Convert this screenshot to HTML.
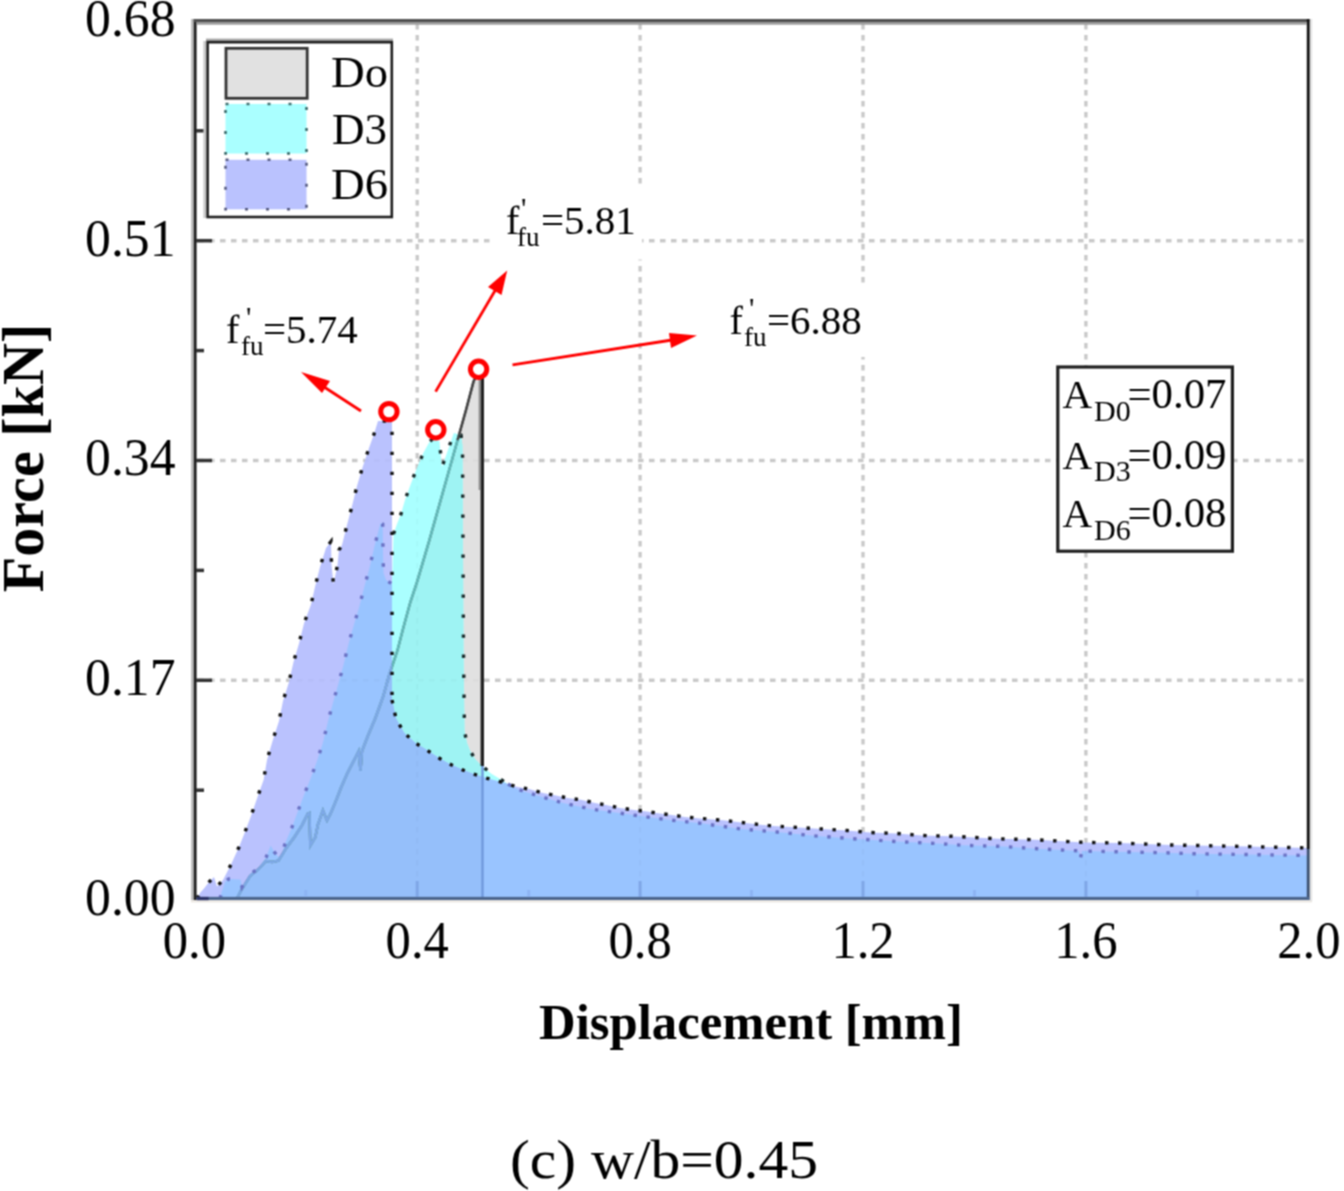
<!DOCTYPE html>
<html><head><meta charset="utf-8">
<style>
html,body{margin:0;padding:0;background:#fff;}
svg{display:block;}
text{font-family:"Liberation Serif",serif;fill:#000;}
</style></head>
<body>
<svg width="1344" height="1191" viewBox="0 0 1344 1191">
<defs>
<filter id="soft" filterUnits="userSpaceOnUse" x="-10" y="-10" width="1364" height="1211" color-interpolation-filters="sRGB"><feConvolveMatrix order="3" kernelMatrix="1 2 1 2 4 2 1 2 1" divisor="16" edgeMode="duplicate" preserveAlpha="true"/></filter>
<clipPath id="c6"><polygon points="197.0,898.5 200.0,893.0 204.0,888.5 209.0,882.0 214.0,877.0 217.0,886.5 223.0,880.0 231.0,864.6 239.0,847.0 245.0,832.0 251.0,816.0 257.5,797.0 263.6,780.0 267.0,760.0 273.0,739.4 279.0,721.0 283.0,701.0 289.0,682.0 293.4,662.4 299.0,643.5 304.0,623.4 311.0,604.6 315.0,587.0 320.0,567.0 326.0,548.0 331.0,541.5 331.5,565.0 333.5,584.0 337.5,565.0 339.0,550.0 342.0,545.0 347.0,525.0 352.0,506.0 357.0,486.0 362.0,469.0 369.0,448.0 374.0,434.0 378.0,421.0 392.0,421.0 392.0,700.0 396.0,718.6 404.0,732.7 415.0,742.7 426.0,749.5 438.0,757.5 448.5,763.6 462.0,769.6 472.0,773.6 482.0,776.8 494.0,780.3 505.0,783.0 515.7,786.6 530.0,789.3 543.0,793.0 556.0,795.5 567.5,798.0 581.0,799.8 595.0,803.0 606.0,805.0 620.0,808.0 634.0,810.0 647.0,811.6 660.0,813.5 672.0,815.0 685.0,817.0 700.0,818.4 723.0,820.3 748.0,823.2 773.5,826.1 799.0,827.5 822.0,829.0 847.0,830.5 870.0,832.5 897.0,833.5 922.0,835.5 950.0,836.2 961.0,836.7 998.0,838.8 1036.0,839.8 1084.0,842.4 1121.0,843.1 1171.0,845.0 1196.0,845.5 1250.0,846.6 1308.8,848.0 1308.8,898.5 197.0,898.5"/></clipPath>
<clipPath id="c3"><polygon points="220.0,898.5 221.5,893.0 225.0,882.0 228.5,879.0 240.5,879.5 242.0,887.0 250.0,874.0 258.0,869.0 262.0,863.0 266.0,857.6 270.7,845.5 274.0,851.6 278.8,857.6 282.0,853.6 285.5,842.2 292.2,826.7 298.0,811.0 304.0,795.0 311.0,777.6 317.0,761.0 323.0,742.5 328.0,721.3 332.6,704.2 338.6,683.0 343.7,664.3 348.3,644.7 354.0,624.5 359.4,606.3 364.2,587.2 369.3,568.8 374.3,547.0 380.5,523.0 382.7,524.0 383.0,552.0 383.5,573.0 386.0,580.0 392.0,584.0 393.5,534.0 397.0,524.0 401.0,514.0 405.0,500.0 410.7,484.3 416.8,468.2 423.3,453.1 429.4,442.0 433.0,438.5 439.4,441.0 442.0,467.0 448.5,448.6 453.8,433.0 461.0,435.0 462.5,446.0 463.5,650.0 464.5,731.4 467.0,743.0 470.2,751.0 475.0,759.0 479.6,763.7 484.0,767.5 491.0,773.5 501.7,780.0 508.0,784.0 518.0,789.5 537.0,795.5 562.0,802.7 590.0,808.9 628.0,814.3 666.0,819.6 703.0,823.6 741.0,829.0 777.0,832.0 814.0,835.8 853.0,838.7 897.0,841.6 938.0,843.5 963.0,845.3 1000.0,846.3 1037.0,848.7 1079.0,850.9 1080.5,858.0 1082.0,851.0 1128.0,852.0 1166.0,852.8 1192.0,853.7 1250.0,854.6 1308.8,855.5 1308.8,898.5 220.0,898.5"/></clipPath>
<clipPath id="c0"><polygon points="237.0,898.5 241.0,890.5 250.0,876.0 258.0,869.5 266.0,861.0 272.0,862.0 278.4,860.7 286.8,847.2 294.3,837.2 301.9,825.4 307.8,813.7 309.5,813.0 310.3,845.6 315.3,837.2 317.9,824.6 322.9,810.3 327.0,820.4 330.5,813.7 335.5,801.9 341.4,786.8 347.2,773.4 358.7,751.2 360.5,771.0 362.0,751.0 367.8,736.0 375.4,718.0 383.0,697.0 389.0,675.6 397.4,650.5 403.2,628.2 410.3,602.3 417.3,581.1 423.2,561.2 429.1,541.2 443.5,490.0 457.6,440.0 466.0,410.0 473.5,381.6 478.0,372.0 482.0,372.0 482.0,766.0 482.5,898.5 237.0,898.5"/></clipPath>
</defs>
<rect width="1344" height="1191" fill="#fff"/>
<g filter="url(#soft)">
<rect x="-10" y="-10" width="1364" height="1211" fill="#fff"/>
<!-- grid -->
<g stroke="#cdcdcd" stroke-width="3.4" stroke-dasharray="5.5 5.5">
<line x1="417.2" y1="24" x2="417.2" y2="896" />
<line x1="640.1" y1="24" x2="640.1" y2="896" />
<line x1="863.0" y1="24" x2="863.0" y2="896" />
<line x1="1085.9" y1="24" x2="1085.9" y2="896" />
<line x1="198" y1="680.3" x2="1306" y2="680.3" />
<line x1="198" y1="460.5" x2="1306" y2="460.5" />
<line x1="198" y1="240.7" x2="1306" y2="240.7" />
</g>
<!-- fills -->
<polygon points="237.0,898.5 241.0,890.5 250.0,876.0 258.0,869.5 266.0,861.0 272.0,862.0 278.4,860.7 286.8,847.2 294.3,837.2 301.9,825.4 307.8,813.7 309.5,813.0 310.3,845.6 315.3,837.2 317.9,824.6 322.9,810.3 327.0,820.4 330.5,813.7 335.5,801.9 341.4,786.8 347.2,773.4 358.7,751.2 360.5,771.0 362.0,751.0 367.8,736.0 375.4,718.0 383.0,697.0 389.0,675.6 397.4,650.5 403.2,628.2 410.3,602.3 417.3,581.1 423.2,561.2 429.1,541.2 443.5,490.0 457.6,440.0 466.0,410.0 473.5,381.6 478.0,372.0 482.0,372.0 482.0,766.0 482.5,898.5 237.0,898.5" fill="#e1e1e1"/>
<polygon points="220.0,898.5 221.5,893.0 225.0,882.0 228.5,879.0 240.5,879.5 242.0,887.0 250.0,874.0 258.0,869.0 262.0,863.0 266.0,857.6 270.7,845.5 274.0,851.6 278.8,857.6 282.0,853.6 285.5,842.2 292.2,826.7 298.0,811.0 304.0,795.0 311.0,777.6 317.0,761.0 323.0,742.5 328.0,721.3 332.6,704.2 338.6,683.0 343.7,664.3 348.3,644.7 354.0,624.5 359.4,606.3 364.2,587.2 369.3,568.8 374.3,547.0 380.5,523.0 382.7,524.0 383.0,552.0 383.5,573.0 386.0,580.0 392.0,584.0 393.5,534.0 397.0,524.0 401.0,514.0 405.0,500.0 410.7,484.3 416.8,468.2 423.3,453.1 429.4,442.0 433.0,438.5 439.4,441.0 442.0,467.0 448.5,448.6 453.8,433.0 461.0,435.0 462.5,446.0 463.5,650.0 464.5,731.4 467.0,743.0 470.2,751.0 475.0,759.0 479.6,763.7 484.0,767.5 491.0,773.5 501.7,780.0 508.0,784.0 518.0,789.5 537.0,795.5 562.0,802.7 590.0,808.9 628.0,814.3 666.0,819.6 703.0,823.6 741.0,829.0 777.0,832.0 814.0,835.8 853.0,838.7 897.0,841.6 938.0,843.5 963.0,845.3 1000.0,846.3 1037.0,848.7 1079.0,850.9 1080.5,858.0 1082.0,851.0 1128.0,852.0 1166.0,852.8 1192.0,853.7 1250.0,854.6 1308.8,855.5 1308.8,898.5 220.0,898.5" fill="#aaffff"/>
<polygon points="220.0,898.5 221.5,893.0 225.0,882.0 228.5,879.0 240.5,879.5 242.0,887.0 250.0,874.0 258.0,869.0 262.0,863.0 266.0,857.6 270.7,845.5 274.0,851.6 278.8,857.6 282.0,853.6 285.5,842.2 292.2,826.7 298.0,811.0 304.0,795.0 311.0,777.6 317.0,761.0 323.0,742.5 328.0,721.3 332.6,704.2 338.6,683.0 343.7,664.3 348.3,644.7 354.0,624.5 359.4,606.3 364.2,587.2 369.3,568.8 374.3,547.0 380.5,523.0 382.7,524.0 383.0,552.0 383.5,573.0 386.0,580.0 392.0,584.0 393.5,534.0 397.0,524.0 401.0,514.0 405.0,500.0 410.7,484.3 416.8,468.2 423.3,453.1 429.4,442.0 433.0,438.5 439.4,441.0 442.0,467.0 448.5,448.6 453.8,433.0 461.0,435.0 462.5,446.0 463.5,650.0 464.5,731.4 467.0,743.0 470.2,751.0 475.0,759.0 479.6,763.7 484.0,767.5 491.0,773.5 501.7,780.0 508.0,784.0 518.0,789.5 537.0,795.5 562.0,802.7 590.0,808.9 628.0,814.3 666.0,819.6 703.0,823.6 741.0,829.0 777.0,832.0 814.0,835.8 853.0,838.7 897.0,841.6 938.0,843.5 963.0,845.3 1000.0,846.3 1037.0,848.7 1079.0,850.9 1080.5,858.0 1082.0,851.0 1128.0,852.0 1166.0,852.8 1192.0,853.7 1250.0,854.6 1308.8,855.5 1308.8,898.5 220.0,898.5" fill="#9ef3f3" clip-path="url(#c0)"/>
<polygon points="197.0,898.5 200.0,893.0 204.0,888.5 209.0,882.0 214.0,877.0 217.0,886.5 223.0,880.0 231.0,864.6 239.0,847.0 245.0,832.0 251.0,816.0 257.5,797.0 263.6,780.0 267.0,760.0 273.0,739.4 279.0,721.0 283.0,701.0 289.0,682.0 293.4,662.4 299.0,643.5 304.0,623.4 311.0,604.6 315.0,587.0 320.0,567.0 326.0,548.0 331.0,541.5 331.5,565.0 333.5,584.0 337.5,565.0 339.0,550.0 342.0,545.0 347.0,525.0 352.0,506.0 357.0,486.0 362.0,469.0 369.0,448.0 374.0,434.0 378.0,421.0 392.0,421.0 392.0,700.0 396.0,718.6 404.0,732.7 415.0,742.7 426.0,749.5 438.0,757.5 448.5,763.6 462.0,769.6 472.0,773.6 482.0,776.8 494.0,780.3 505.0,783.0 515.7,786.6 530.0,789.3 543.0,793.0 556.0,795.5 567.5,798.0 581.0,799.8 595.0,803.0 606.0,805.0 620.0,808.0 634.0,810.0 647.0,811.6 660.0,813.5 672.0,815.0 685.0,817.0 700.0,818.4 723.0,820.3 748.0,823.2 773.5,826.1 799.0,827.5 822.0,829.0 847.0,830.5 870.0,832.5 897.0,833.5 922.0,835.5 950.0,836.2 961.0,836.7 998.0,838.8 1036.0,839.8 1084.0,842.4 1121.0,843.1 1171.0,845.0 1196.0,845.5 1250.0,846.6 1308.8,848.0 1308.8,898.5 197.0,898.5" fill="#bac2fe"/>
<polygon points="197.0,898.5 200.0,893.0 204.0,888.5 209.0,882.0 214.0,877.0 217.0,886.5 223.0,880.0 231.0,864.6 239.0,847.0 245.0,832.0 251.0,816.0 257.5,797.0 263.6,780.0 267.0,760.0 273.0,739.4 279.0,721.0 283.0,701.0 289.0,682.0 293.4,662.4 299.0,643.5 304.0,623.4 311.0,604.6 315.0,587.0 320.0,567.0 326.0,548.0 331.0,541.5 331.5,565.0 333.5,584.0 337.5,565.0 339.0,550.0 342.0,545.0 347.0,525.0 352.0,506.0 357.0,486.0 362.0,469.0 369.0,448.0 374.0,434.0 378.0,421.0 392.0,421.0 392.0,700.0 396.0,718.6 404.0,732.7 415.0,742.7 426.0,749.5 438.0,757.5 448.5,763.6 462.0,769.6 472.0,773.6 482.0,776.8 494.0,780.3 505.0,783.0 515.7,786.6 530.0,789.3 543.0,793.0 556.0,795.5 567.5,798.0 581.0,799.8 595.0,803.0 606.0,805.0 620.0,808.0 634.0,810.0 647.0,811.6 660.0,813.5 672.0,815.0 685.0,817.0 700.0,818.4 723.0,820.3 748.0,823.2 773.5,826.1 799.0,827.5 822.0,829.0 847.0,830.5 870.0,832.5 897.0,833.5 922.0,835.5 950.0,836.2 961.0,836.7 998.0,838.8 1036.0,839.8 1084.0,842.4 1121.0,843.1 1171.0,845.0 1196.0,845.5 1250.0,846.6 1308.8,848.0 1308.8,898.5 197.0,898.5" fill="#99c4ff" clip-path="url(#c3)"/>
<g clip-path="url(#c3)"><polygon points="237.0,898.5 241.0,890.5 250.0,876.0 258.0,869.5 266.0,861.0 272.0,862.0 278.4,860.7 286.8,847.2 294.3,837.2 301.9,825.4 307.8,813.7 309.5,813.0 310.3,845.6 315.3,837.2 317.9,824.6 322.9,810.3 327.0,820.4 330.5,813.7 335.5,801.9 341.4,786.8 347.2,773.4 358.7,751.2 360.5,771.0 362.0,751.0 367.8,736.0 375.4,718.0 383.0,697.0 389.0,675.6 397.4,650.5 403.2,628.2 410.3,602.3 417.3,581.1 423.2,561.2 429.1,541.2 443.5,490.0 457.6,440.0 466.0,410.0 473.5,381.6 478.0,372.0 482.0,372.0 482.0,766.0 482.5,898.5 237.0,898.5" fill="#95bffa" clip-path="url(#c6)"/></g>
<!-- faint grid over fills -->
<g stroke="#000" stroke-opacity="0.025" stroke-width="2.4" stroke-dasharray="5.5 5.5">
<line x1="417.2" y1="24" x2="417.2" y2="896" />
<line x1="640.1" y1="24" x2="640.1" y2="896" />
<line x1="863.0" y1="24" x2="863.0" y2="896" />
<line x1="1085.9" y1="24" x2="1085.9" y2="896" />
<line x1="198" y1="680.3" x2="1306" y2="680.3" />
<line x1="198" y1="460.5" x2="1306" y2="460.5" />
<line x1="198" y1="240.7" x2="1306" y2="240.7" />
</g>
<!-- D0 line -->
<polyline points="237.0,898.5 241.0,890.5 250.0,876.0 258.0,869.5 266.0,861.0 272.0,862.0 278.4,860.7 286.8,847.2 294.3,837.2 301.9,825.4 307.8,813.7 309.5,813.0 310.3,845.6 315.3,837.2 317.9,824.6 322.9,810.3 327.0,820.4 330.5,813.7 335.5,801.9 341.4,786.8 347.2,773.4 358.7,751.2 360.5,771.0 362.0,751.0 367.8,736.0 375.4,718.0 383.0,697.0 389.0,675.6 397.4,650.5 403.2,628.2 410.3,602.3 417.3,581.1 423.2,561.2 429.1,541.2 443.5,490.0 457.6,440.0 466.0,410.0 473.5,381.6 478.0,372.0" fill="none" stroke="#555" stroke-width="2.4"/>
<polyline points="237.0,898.5 241.0,890.5 250.0,876.0 258.0,869.5 266.0,861.0 272.0,862.0 278.4,860.7 286.8,847.2 294.3,837.2 301.9,825.4 307.8,813.7 309.5,813.0 310.3,845.6 315.3,837.2 317.9,824.6 322.9,810.3 327.0,820.4 330.5,813.7 335.5,801.9 341.4,786.8 347.2,773.4 358.7,751.2 360.5,771.0 362.0,751.0 367.8,736.0 375.4,718.0 383.0,697.0 389.0,675.6 397.4,650.5 403.2,628.2 410.3,602.3 417.3,581.1 423.2,561.2 429.1,541.2 443.5,490.0 457.6,440.0 466.0,410.0 473.5,381.6 478.0,372.0" fill="none" stroke="#62bcbc" stroke-width="2.4" clip-path="url(#c3)"/>
<polyline points="237.0,898.5 241.0,890.5 250.0,876.0 258.0,869.5 266.0,861.0 272.0,862.0 278.4,860.7 286.8,847.2 294.3,837.2 301.9,825.4 307.8,813.7 309.5,813.0 310.3,845.6 315.3,837.2 317.9,824.6 322.9,810.3 327.0,820.4 330.5,813.7 335.5,801.9 341.4,786.8 347.2,773.4 358.7,751.2 360.5,771.0 362.0,751.0 367.8,736.0 375.4,718.0 383.0,697.0 389.0,675.6 397.4,650.5 403.2,628.2 410.3,602.3 417.3,581.1 423.2,561.2 429.1,541.2 443.5,490.0 457.6,440.0 466.0,410.0 473.5,381.6 478.0,372.0" fill="none" stroke="#7ea8e8" stroke-width="2.4" clip-path="url(#c6)"/>
<polyline points="457.6,440.0 466.0,410.0 473.5,381.6 478.0,372.0" fill="none" stroke="#444" stroke-width="2.4"/>
<line x1="482.3" y1="376" x2="482.3" y2="766" stroke="#222" stroke-width="3.4"/>
<line x1="479.5" y1="376" x2="479.5" y2="490" stroke="#888" stroke-width="1.6"/>
<line x1="482.5" y1="766" x2="482.5" y2="897" stroke="#6f98dc" stroke-width="2.4"/>
<!-- D3 dotted -->
<g fill="none" stroke-width="3.4" stroke-dasharray="3.4 16.6">
<polyline points="220.0,898.5 221.5,893.0 225.0,882.0 228.5,879.0 240.5,879.5 242.0,887.0 250.0,874.0 258.0,869.0 262.0,863.0 266.0,857.6 270.7,845.5 274.0,851.6 278.8,857.6 282.0,853.6 285.5,842.2 292.2,826.7 298.0,811.0 304.0,795.0 311.0,777.6 317.0,761.0 323.0,742.5 328.0,721.3 332.6,704.2 338.6,683.0 343.7,664.3 348.3,644.7 354.0,624.5 359.4,606.3 364.2,587.2 369.3,568.8 374.3,547.0 380.5,523.0 382.7,524.0 383.0,552.0 383.5,573.0 386.0,580.0 392.0,584.0" stroke="#6a72c4"/>
<polyline points="393.5,534.0 397.0,524.0 401.0,514.0 405.0,500.0 410.7,484.3 416.8,468.2 423.3,453.1 429.4,442.0 433.0,438.5 439.4,441.0 442.0,467.0 448.5,448.6 453.8,433.0 461.0,435.0 462.5,446.0 463.5,650.0 464.5,731.4 467.0,743.0 470.2,751.0 475.0,759.0 479.6,763.7 484.0,767.5 491.0,773.5 501.7,780.0 508.0,784.0" stroke="#1a2a2a"/>
<polyline points="508.0,784.0 518.0,789.5 537.0,795.5 562.0,802.7 590.0,808.9 628.0,814.3 666.0,819.6 703.0,823.6 741.0,829.0 777.0,832.0 814.0,835.8 853.0,838.7 897.0,841.6 938.0,843.5 963.0,845.3 1000.0,846.3 1037.0,848.7 1079.0,850.9 1080.5,858.0 1082.0,851.0 1128.0,852.0 1166.0,852.8 1192.0,853.7 1250.0,854.6 1308.8,855.5" stroke="#6a72c4" stroke-dasharray="3.4 9.6"/>
</g>
<!-- D6 dotted -->
<g fill="none" stroke="#111" stroke-width="3.4">
<polyline points="197.0,898.5 200.0,893.0 204.0,888.5 209.0,882.0 214.0,877.0 217.0,886.5 223.0,880.0 231.0,864.6 239.0,847.0 245.0,832.0 251.0,816.0 257.5,797.0 263.6,780.0 267.0,760.0 273.0,739.4 279.0,721.0 283.0,701.0 289.0,682.0 293.4,662.4 299.0,643.5 304.0,623.4 311.0,604.6 315.0,587.0 320.0,567.0 326.0,548.0 331.0,541.5 331.5,565.0 333.5,584.0 337.5,565.0 339.0,550.0 342.0,545.0 347.0,525.0 352.0,506.0 357.0,486.0 362.0,469.0 369.0,448.0 374.0,434.0 378.0,421.0 392.0,421.0 392.0,700.0" stroke-dasharray="3.4 16.6"/>
<polyline points="392.0,700.0 396.0,718.6 404.0,732.7 415.0,742.7 426.0,749.5 438.0,757.5 448.5,763.6 462.0,769.6 472.0,773.6 482.0,776.8 494.0,780.3 505.0,783.0 515.7,786.6 530.0,789.3 543.0,793.0 556.0,795.5 567.5,798.0 581.0,799.8 595.0,803.0 606.0,805.0 620.0,808.0 634.0,810.0 647.0,811.6 660.0,813.5 672.0,815.0 685.0,817.0 700.0,818.4 723.0,820.3 748.0,823.2 773.5,826.1 799.0,827.5 822.0,829.0 847.0,830.5 870.0,832.5 897.0,833.5 922.0,835.5 950.0,836.2 961.0,836.7 998.0,838.8 1036.0,839.8 1084.0,842.4 1121.0,843.1 1171.0,845.0 1196.0,845.5 1250.0,846.6 1308.8,848.0" stroke-dasharray="3.4 9.6"/>
</g>
<!-- axes frame -->
<rect x="191" y="19" width="2.7" height="881" fill="#bdbdbd"/>
<rect x="193.7" y="19" width="2.9" height="881" fill="#1e1e1e"/>
<rect x="193.7" y="19" width="1116" height="3" fill="#505050"/>
<rect x="196.6" y="22" width="1110" height="2.7" fill="#9c9c9c"/>
<rect x="1306.8" y="19" width="3" height="830" fill="#111"/>
<rect x="1306.8" y="849" width="3" height="51" fill="#3c5070"/>
<rect x="196.6" y="896.9" width="1113" height="3.3" fill="#4c668d"/>
<rect x="191" y="900.2" width="1121" height="2.2" fill="#ebe7e1"/>
<rect x="1309.8" y="19" width="2.4" height="882" fill="#e2e2e2"/>
<rect x="196.6" y="896.9" width="12" height="3.3" fill="#2c3468"/>
<g stroke="#333" stroke-width="3.5">
<line x1="196" y1="790.2" x2="204" y2="790.2" />
<line x1="196" y1="680.3" x2="212" y2="680.3" />
<line x1="196" y1="570.4" x2="204" y2="570.4" />
<line x1="196" y1="460.5" x2="212" y2="460.5" />
<line x1="196" y1="350.6" x2="204" y2="350.6" />
<line x1="196" y1="240.7" x2="212" y2="240.7" />
<line x1="196" y1="130.8" x2="204" y2="130.8" />
</g>
<g stroke-width="3">
<line x1="305.8" y1="897" x2="305.8" y2="890" stroke="#8db4f3"/>
<line x1="417.2" y1="897" x2="417.2" y2="881" stroke="#7fa6e6"/>
<line x1="528.7" y1="897" x2="528.7" y2="890" stroke="#8db4f3"/>
<line x1="640.1" y1="897" x2="640.1" y2="881" stroke="#7fa6e6"/>
<line x1="751.5" y1="897" x2="751.5" y2="890" stroke="#8db4f3"/>
<line x1="863.0" y1="897" x2="863.0" y2="881" stroke="#7fa6e6"/>
<line x1="974.5" y1="897" x2="974.5" y2="890" stroke="#8db4f3"/>
<line x1="1085.9" y1="897" x2="1085.9" y2="881" stroke="#7fa6e6"/>
<line x1="1197.4" y1="897" x2="1197.4" y2="890" stroke="#8db4f3"/>
</g>
<!-- tick labels -->
<g font-size="53">
<text transform="translate(175.5,35.7) scale(0.975,1)" text-anchor="end">0.68</text>
<text transform="translate(175.5,255.5) scale(0.975,1)" text-anchor="end">0.51</text>
<text transform="translate(175.5,475.3) scale(0.975,1)" text-anchor="end">0.34</text>
<text transform="translate(175.5,695.1) scale(0.975,1)" text-anchor="end">0.17</text>
<text transform="translate(175.5,914.9) scale(0.975,1)" text-anchor="end">0.00</text>
<text transform="translate(194.3,957.5) scale(0.955,1)" text-anchor="middle">0.0</text>
<text transform="translate(417.2,957.5) scale(0.955,1)" text-anchor="middle">0.4</text>
<text transform="translate(640.1,957.5) scale(0.955,1)" text-anchor="middle">0.8</text>
<text transform="translate(863.0,957.5) scale(0.955,1)" text-anchor="middle">1.2</text>
<text transform="translate(1085.9,957.5) scale(0.955,1)" text-anchor="middle">1.6</text>
<text transform="translate(1308.8,957.5) scale(0.955,1)" text-anchor="middle">2.0</text>
</g>
<!-- axis titles -->
<text x="751" y="1038.8" text-anchor="middle" font-size="50" font-weight="bold" textLength="424" lengthAdjust="spacingAndGlyphs">Displacement [mm]</text>
<text transform="translate(43,458) rotate(-90)" text-anchor="middle" font-size="60" font-weight="bold" textLength="268.5" lengthAdjust="spacingAndGlyphs">Force [kN]</text>
<text x="664" y="1177.8" text-anchor="middle" font-size="55" textLength="308" lengthAdjust="spacingAndGlyphs">(c) w/b=0.45</text>

<!-- legend -->
<rect x="206" y="38.6" width="187" height="2.4" fill="#a8a8a8"/>
<rect x="203.4" y="41" width="2.6" height="177" fill="#c8c8c8"/>
<rect x="207.6" y="42.2" width="184.2" height="174.8" fill="#fff" stroke="#1e1e1e" stroke-width="2.6"/>
<rect x="226" y="48.3" width="81.2" height="50" fill="#e1e1e1" stroke="#333" stroke-width="2.8"/>
<rect x="225.5" y="104" width="81" height="49.5" fill="#aaffff" stroke="#3a6a6a" stroke-width="2.6" stroke-dasharray="3 18"/>
<rect x="225.5" y="159.8" width="81" height="49.5" fill="#bac2fe" stroke="#555a80" stroke-width="2.6" stroke-dasharray="3 18"/>
<g font-size="45">
<text x="331" y="86.8" textLength="57" lengthAdjust="spacingAndGlyphs">Do</text>
<text x="332" y="143.5" textLength="55" lengthAdjust="spacingAndGlyphs">D3</text>
<text x="331" y="199.3" textLength="57" lengthAdjust="spacingAndGlyphs">D6</text>
</g>

<!-- A box -->
<rect x="1057.8" y="367" width="174.6" height="184.2" fill="#fff" stroke="#1e1e1e" stroke-width="3.2"/>
<g font-size="41">
<text x="1062.5" y="408.4">A</text><text x="1094" y="421" font-size="30">D0</text><text x="1127.5" y="408.4" font-size="43" textLength="99" lengthAdjust="spacingAndGlyphs">=0.07</text>
<text x="1062.5" y="468.6">A</text><text x="1094" y="481" font-size="30">D3</text><text x="1127.5" y="468.6" font-size="43" textLength="99" lengthAdjust="spacingAndGlyphs">=0.09</text>
<text x="1062.5" y="527.1">A</text><text x="1094" y="540" font-size="30">D6</text><text x="1127.5" y="527.1" font-size="43" textLength="99" lengthAdjust="spacingAndGlyphs">=0.08</text>
</g>

<!-- annotations -->
<rect x="215" y="295" width="154" height="72" fill="#fff"/>
<rect x="495" y="185" width="147" height="74.5" fill="#fff"/>
<rect x="718" y="287" width="150" height="70" fill="#fff"/>
<g font-size="40">
<text x="226" y="343">f</text><text x="241" y="355" font-size="27">fu</text><text x="246" y="327" font-size="30">'</text><text x="263" y="343" font-size="41">=5.74</text>
<text x="506" y="233.5">f</text><text x="517" y="246" font-size="27">fu</text><text x="521" y="218" font-size="30">'</text><text x="541" y="233.5" font-size="41">=5.81</text>
<text x="729.5" y="334">f</text><text x="744" y="346" font-size="27">fu</text><text x="749" y="318" font-size="30">'</text><text x="767" y="334" font-size="41">=6.88</text>
</g>

<!-- red arrows -->
<g stroke="#ff0000" stroke-width="2.8" fill="none">
<line x1="361" y1="411" x2="318" y2="383"/>
<line x1="435.6" y1="391.6" x2="496" y2="289"/>
<line x1="512.5" y1="364.8" x2="672" y2="340"/>
</g>
<g fill="#ff0000">
<polygon points="301,372 330,381 322,393"/>
<polygon points="507.2,270.6 501.5,295 488,287"/>
<polygon points="697,335.6 669,333 671,348"/>
</g>
<g stroke="#ff0000" stroke-width="5" fill="#fff">
<circle cx="388.9" cy="411.6" r="8.2"/>
<circle cx="435.8" cy="429.8" r="8.2"/>
<circle cx="478.6" cy="369.2" r="8.2"/>
</g>
</g>
</svg>
</body></html>
